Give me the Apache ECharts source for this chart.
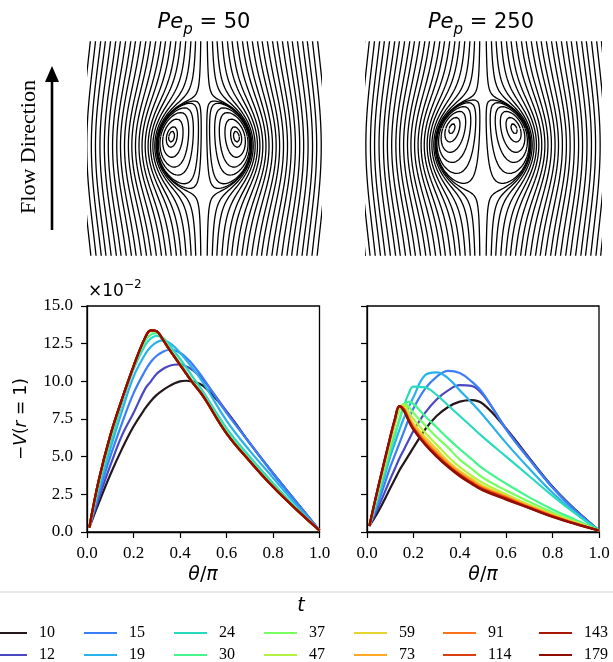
<!DOCTYPE html>
<html><head><meta charset="utf-8">
<script src="https://cdn.jsdelivr.net/npm/echarts@6/dist/echarts.min.js"></script>
<style>html,body{margin:0;padding:0;background:#fff}#c{width:613px;height:662px}</style>
</head><body><div id="c"></div><script>
// ---------------- data ----------------
const tLabels = ['10','12','15','19','24','30','37','47','59','73','91','114','143','179'];
// Pe_p = 50 panel (values x 10^-2)
const thetaL = [0.01,0.05,0.1,0.15,0.2,0.25,0.275,0.3,0.325,0.35,0.375,0.4,0.425,0.45,0.5,0.6,0.7,0.8,0.9,1.0];
const L10 = [0.3,1.9,3.8,5.5,7.0,8.2,8.7,9.1,9.4,9.65,9.85,10.0,10.04,10.0,9.7,8.0,5.9,3.9,2.0,0.1];
const L12 = [0.3,2.2,4.4,6.4,7.9,9.5,10.0,10.5,10.8,11.0,11.1,11.12,11.0,10.8,10.1,8.0,5.9,3.9,2.0,0.1];
const L15 = [0.3,2.5,5.0,7.2,9.2,10.7,11.3,11.7,11.95,12.08,12.05,11.9,11.6,11.2,10.2,7.9,5.9,3.9,2.0,0.1];
const L19 = [0.3,2.8,5.5,8.0,10.3,11.8,12.3,12.6,12.72,12.6,12.3,11.9,11.45,10.95,9.9,7.4,5.4,3.6,1.8,0.1];
const L24 = [0.3,3.0,5.9,8.5,10.8,12.4,12.85,13.02,12.9,12.5,12.0,11.5,10.95,10.4,9.3,6.9,5.0,3.25,1.6,0.1];
const L30 = [0.3,3.2,6.2,8.7,10.95,12.7,13.1,13.2,12.85,12.35,11.75,11.2,10.65,10.1,9.1,6.7,4.8,3.1,1.55,0.1];
const L37 = [0.3,3.35,6.35,8.75,11.0,12.85,13.32,13.28,12.8,12.2,11.65,11.1,10.55,10.0,9.0,6.55,4.7,3.0,1.5,0.1];
const Llate = [0.3,3.4,6.4,8.8,11.0,12.9,13.38,13.32,12.8,12.2,11.65,11.1,10.55,10.0,9.0,6.55,4.7,3.0,1.5,0.1];
const leftSeries = [L10,L12,L15,L19,L24,L30,L37,Llate,Llate,Llate,Llate,Llate,Llate,Llate];
// Pe_p = 250 panel
const thetaR = [0.01,0.05,0.1,0.12,0.14,0.16,0.18,0.2,0.25,0.3,0.35,0.4,0.45,0.5,0.6,0.7,0.8,0.9,1.0];
const R10 = [0.4,1.4,2.9,3.5,4.1,4.6,5.1,5.6,6.8,7.7,8.3,8.65,8.75,8.5,6.85,4.9,3.0,1.45,0.1];
const R12 = [0.4,1.7,3.5,4.2,4.9,5.5,6.1,6.7,7.9,8.8,9.4,9.75,9.7,9.1,6.85,4.85,2.95,1.4,0.1];
const R15 = [0.4,2.0,4.3,5.1,5.9,6.7,7.5,8.2,9.5,10.3,10.7,10.55,10.0,9.2,6.8,4.8,2.95,1.4,0.1];
const R19 = [0.4,2.3,5.0,5.9,6.8,7.6,8.3,8.95,10.4,10.6,10.2,9.4,8.6,7.75,5.9,4.2,2.6,1.25,0.1];
const R24 = [0.4,2.5,5.3,6.4,7.45,8.4,9.2,9.65,9.6,9.1,8.4,7.7,7.0,6.3,5.0,3.7,2.4,1.2,0.1];
const R30 = [0.4,2.7,5.5,6.5,7.5,8.35,8.65,8.5,7.7,6.95,6.2,5.5,4.85,4.2,3.2,2.3,1.5,0.8,0.1];
const R37 = [0.4,2.85,5.9,7.1,8.1,8.5,8.3,7.9,7.1,6.3,5.6,4.8,4.2,3.6,2.75,2.0,1.3,0.7,0.1];
const R47 = [0.4,2.95,6.0,7.2,8.3,8.4,7.95,7.5,6.6,5.8,5.0,4.3,3.75,3.25,2.5,1.8,1.2,0.65,0.1];
const R59 = [0.4,3.0,6.1,7.3,8.35,8.25,7.7,7.2,6.3,5.5,4.7,4.05,3.55,3.05,2.4,1.75,1.15,0.6,0.1];
const R73 = [0.4,3.0,6.15,7.35,8.35,8.2,7.6,7.05,6.1,5.3,4.55,3.95,3.45,2.95,2.35,1.7,1.1,0.58,0.1];
const R91 = [0.4,3.05,6.2,7.4,8.35,8.15,7.5,6.95,6.0,5.2,4.45,3.85,3.35,2.9,2.3,1.65,1.08,0.56,0.1];
const R114 = [0.4,3.1,6.25,7.45,8.35,8.1,7.45,6.9,5.9,5.1,4.4,3.8,3.3,2.85,2.25,1.62,1.05,0.55,0.1];
const R143 = [0.4,3.1,6.3,7.5,8.35,8.05,7.4,6.85,5.85,5.05,4.35,3.75,3.25,2.8,2.2,1.6,1.03,0.54,0.1];
const R179 = [0.4,3.1,6.3,7.5,8.35,8.0,7.35,6.8,5.8,5.0,4.3,3.7,3.2,2.75,2.15,1.58,1.0,0.52,0.1];
const rightSeries = [R10,R12,R15,R19,R24,R30,R37,R47,R59,R73,R91,R114,R143,R179];
// streamline seeds (drop radii units)
const seedsTopL = [0.07,0.18,0.28,0.39,0.50,0.60,0.71,0.82,0.92,1.03,1.14,1.24,1.35,1.46,1.56,1.67,1.78,1.88,1.99,2.10,2.20,2.31,2.42];
const seedsTopR = [0.07,0.18,0.28,0.39,0.50,0.60,0.71,0.82,0.92,1.03,1.14,1.24,1.35,1.46,1.56,1.67,1.78,1.88,1.99,2.10,2.20,2.31,2.42,2.52];
const loopSeedsL = [0.06,0.12,0.23,0.33,0.45,0.57,0.63];
const loopSeedsR = [0.07,0.16,0.27,0.38,0.50,0.60];
const coreYL = 0.2, coreYR = 0.35;

// ---------------- stream function ----------------
const A = 1.1, B = 0.1;
function field(c){
  return function(x,y){
    const ax=Math.abs(x), r2=ax*ax+y*y;
    if(r2<1) return -ax*ax*(1-r2)*Math.exp(c*y);
    const r=Math.sqrt(r2);
    return 0.5*ax*ax*(1-A/r+B/(r2*r));
  };
}
function grad(f,x,y){const e=1e-5;return [(f(x+e,y)-f(x-e,y))/(2*e),(f(x,y+e)-f(x,y-e))/(2*e)];}
function trace(f,x0,y0,dir,box){
  const Lv=f(x0,y0), h=0.01; let x=x0,y=y0; const pts=[[x,y]];
  for(let i=0;i<5000;i++){
    let g=grad(f,x,y), n=Math.hypot(g[0],g[1]); if(n<1e-13) break;
    let tx=-g[1]/n*dir, ty=g[0]/n*dir;
    const xm=Math.abs(x+tx*h/2), ym=y+ty*h/2; g=grad(f,xm,ym); n=Math.hypot(g[0],g[1]); if(n<1e-13) break;
    tx=-g[1]/n*dir; ty=g[0]/n*dir;
    x+=tx*h; y+=ty*h; x=Math.abs(x);
    for(let k=0;k<2;k++){g=grad(f,x,y);const n2=g[0]*g[0]+g[1]*g[1];if(n2<1e-16)break;const d=f(x,y)-Lv;x-=d*g[0]/n2;y-=d*g[1]/n2;x=Math.abs(x);}
    pts.push([x,y]);
    if(x>box.x||y>box.y1||y<box.y0) break;
  }
  return pts;
}
// closed internal loops: level found along rays from the vortex core
function loopLines(f,loopSeeds,coreY){
  let best=[0.5,0,0];
  for(let i=1;i<200;i++)for(let j=1;j<200;j++){const x=i/200,y=-1+2*j/200;if(x*x+y*y>=1)continue;const v=f(x,y);if(v<best[2])best=[x,y,v];}
  const cx=best[0], cy=best[1];
  const lines=[];
  loopSeeds.forEach(x0=>{
    const Lv=f(x0,coreY); const pts=[];
    for(let k=0;k<=360;k++){
      const ph=2*Math.PI*k/360, ux=Math.cos(ph), uy=Math.sin(ph);
      const b=cx*ux+cy*uy, c0=cx*cx+cy*cy-1;
      let tmax=-b+Math.sqrt(b*b-c0);
      if(ux<0) tmax=Math.min(tmax,-cx/ux);
      let lo=0, hi=tmax*0.999999;
      if(f(cx+hi*ux,cy+hi*uy)<Lv) continue;
      for(let it=0;it<50;it++){const m=(lo+hi)/2; if(f(cx+m*ux,cy+m*uy)<Lv) lo=m; else hi=m;}
      const t=(lo+hi)/2; pts.push([cx+t*ux,cy+t*uy]);
    }
    lines.push(pts);
  });
  return lines;
}
function buildStreams(seedsTop,loopSeeds,coreY,yTop,yBot,xMax){
  const c=4*coreY/(1-coreY*coreY), f=field(c);
  const box={x:xMax+0.8,y0:yBot-0.1,y1:yTop+0.1};
  const lines=[];
  seedsTop.forEach(x0=>{
    const a=trace(f,x0,yTop,1,box), b=trace(f,x0,yTop,-1,box);
    lines.push(b.reverse().concat(a.slice(1)).filter((_,i)=>i%2===0));
  });
  return lines.concat(loopLines(f,loopSeeds,coreY));
}

// ---------------- chart ----------------
function turbo(t){
  const r=0.13572138+t*(4.61539260+t*(-42.66032258+t*(132.13108234+t*(-152.94239396+t*59.28637943))));
  const g=0.09140261+t*(2.19418839+t*(4.84296658+t*(-14.18503333+t*(4.27729857+t*2.82956604))));
  const b=0.10667330+t*(12.64194608+t*(-60.58204836+t*(110.36276771+t*(-89.90310912+t*27.34824973))));
  const cl=v=>Math.round(Math.max(0,Math.min(1,v))*255);
  return 'rgb('+cl(r)+','+cl(g)+','+cl(b)+')';
}
const colors = tLabels.map((_,i)=>turbo(i/13));

const streamL = {xMin:-2.468,xMax:2.468,yMin:-2.319,yMax:2.213};
const streamR = {xMin:-2.489,xMax:2.489,yMin:-2.340,yMax:2.191};

const series=[];
function addStreams(lines,gi){
  lines.forEach(pts=>{
    [1,-1].forEach(s=>series.push({type:'line',xAxisIndex:gi,yAxisIndex:gi,data:pts.map(p=>[s*p[0],p[1]]),
      symbol:'none',silent:true,clip:true,lineStyle:{color:'#000',width:1.3},z:2}));
  });
}
addStreams(buildStreams(seedsTopL,loopSeedsL,coreYL,streamL.yMax,streamL.yMin,streamL.xMax),0);
addStreams(buildStreams(seedsTopR,loopSeedsR,coreYR,streamR.yMax,streamR.yMin,streamR.xMax),1);

function addCurves(thetas,vals,gi){
  vals.forEach((v,i)=>series.push({type:'line',name:tLabels[i],xAxisIndex:gi,yAxisIndex:gi,
    data:thetas.map((t,k)=>[t,v[k]]),symbol:'none',showSymbol:false,smooth:0.4,clip:true,
    lineStyle:{width:2.2,color:colors[i]},itemStyle:{color:colors[i]},z:3}));
}
addCurves(thetaL,leftSeries,2);
addCurves(thetaR,rightSeries,3);

const hiddenAxis=(mn,mx)=>({type:'value',min:mn,max:mx,show:false});
const serifLbl={fontFamily:'Liberation Serif',fontSize:17,color:'#000'};
function xPlotAxis(gi){return {type:'value',gridIndex:gi,min:0,max:1,interval:0.2,
  axisLine:{show:true,lineStyle:{color:'#000',width:1.3}},axisTick:{show:true,length:6,lineStyle:{color:'#000',width:1.2}},
  splitLine:{show:false},axisLabel:Object.assign({margin:13,formatter:v=>v.toFixed(1)},serifLbl)};}
function yPlotAxis(gi,lab){return {type:'value',gridIndex:gi,min:0,max:15,interval:2.5,
  axisLine:{show:true,lineStyle:{color:'#000',width:1.3}},axisTick:{show:true,length:6,lineStyle:{color:'#000',width:1.2}},
  splitLine:{show:false},axisLabel:Object.assign({show:lab,margin:14,formatter:v=>v.toFixed(1)},serifLbl)};}

// legend: 7 columns x 2 rows, column-major
const legendLeft=[-6,84,174,264,354,443,539];
const legendTop=[625,647];
const legends=tLabels.map((name,k)=>({data:[name],orient:'horizontal',left:legendLeft[Math.floor(k/2)],top:legendTop[k%2],
  itemWidth:33,itemHeight:2.2,icon:'rect',selectedMode:false,padding:0,
  textStyle:{fontFamily:'Liberation Serif',fontSize:16,color:'#000',lineHeight:16,padding:[0,0,0,7]}}));

const dvs='DejaVu Sans';
const peRich={i:{fontFamily:dvs,fontStyle:'italic',fontSize:21,fill:'#000',lineHeight:30,verticalAlign:'middle'},
            s:{fontFamily:dvs,fontStyle:'italic',fontSize:15,fill:'#000',lineHeight:22,verticalAlign:'bottom'},
            n:{fontFamily:dvs,fontSize:21,fill:'#000',lineHeight:30,verticalAlign:'middle'}};
const mRich={i:{fontFamily:dvs,fontStyle:'italic',fontSize:19,fill:'#000'},n:{fontFamily:dvs,fontSize:19,fill:'#000'}};
const option={
  animation:false,
  backgroundColor:'#fff',
  grid:[
    {left:88,top:42,width:232,height:213},
    {left:366,top:42,width:234,height:213},
    {left:87,top:306,width:232.5,height:226,show:true,borderColor:'#000',borderWidth:1.3},
    {left:367,top:306,width:232,height:226,show:true,borderColor:'#000',borderWidth:1.3}
  ],
  xAxis:[Object.assign(hiddenAxis(streamL.xMin,streamL.xMax),{gridIndex:0}),
         Object.assign(hiddenAxis(streamR.xMin,streamR.xMax),{gridIndex:1}),
         xPlotAxis(2),xPlotAxis(3)],
  yAxis:[Object.assign(hiddenAxis(streamL.yMin,streamL.yMax),{gridIndex:0}),
         Object.assign(hiddenAxis(streamR.yMin,streamR.yMax),{gridIndex:1}),
         yPlotAxis(2,true),yPlotAxis(3,false)],
  legend:legends,
  series:series,
  graphic:[
    {type:'rect',shape:{x:-4,y:592,width:621,height:90,r:4},style:{fill:'none',stroke:'#d4d4d4',lineWidth:1},z:0,silent:true},
    {type:'text',x:301,y:606,style:{text:'t',fontFamily:dvs,fontStyle:'italic',fontSize:19,fill:'#000',align:'center',verticalAlign:'middle'}},
    {type:'text',x:204,y:23,style:{text:'{i|Pe}{s|p}{n| = 50}',align:'center',verticalAlign:'middle',rich:peRich}},
    {type:'text',x:481,y:23,style:{text:'{i|Pe}{s|p}{n| = 250}',align:'center',verticalAlign:'middle',rich:peRich}},
    {type:'line',shape:{x1:52,y1:230,x2:52,y2:80},style:{stroke:'#000',lineWidth:2.6}},
    {type:'polygon',shape:{points:[[45,82],[59,82],[52,66]]},style:{fill:'#000'}},
    {type:'text',x:29,y:147,rotation:Math.PI/2,style:{text:'Flow Direction',fontFamily:'Liberation Serif',fontSize:22,fill:'#000',align:'center',verticalAlign:'middle'}},
    {type:'text',x:88,y:292,style:{text:'{n|×10}{p|−2}',align:'left',verticalAlign:'middle',
      rich:{n:{fontFamily:dvs,fontSize:17,fill:'#000',lineHeight:26,verticalAlign:'middle'},
            p:{fontFamily:dvs,fontSize:12,fill:'#000',lineHeight:14,verticalAlign:'top'}}}},
    {type:'text',x:203,y:575,style:{text:'{i|θ}{n|/}{i|π}',align:'center',verticalAlign:'middle',rich:mRich}},
    {type:'text',x:483,y:575,style:{text:'{i|θ}{n|/}{i|π}',align:'center',verticalAlign:'middle',rich:mRich}},
    {type:'text',x:22,y:419,rotation:Math.PI/2,style:{text:'{n|−}{i|V}{n|(}{i|r}{n| = 1)}',align:'center',verticalAlign:'middle',
      rich:{i:{fontFamily:dvs,fontStyle:'italic',fontSize:17,fill:'#000'},n:{fontFamily:dvs,fontSize:17,fill:'#000'}}}}
  ]
};
const chart=echarts.init(document.getElementById('c'),null,{renderer:'canvas'});
chart.setOption(option);
</script></body></html>
